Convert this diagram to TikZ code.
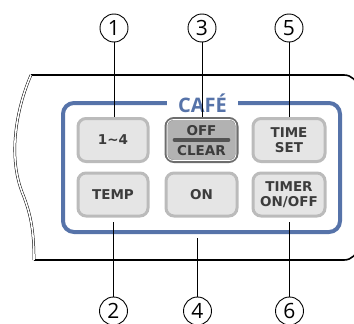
\documentclass[tikz,border=0pt]{standalone}
\usepackage{fontspec}
\setmainfont{Open Sans}
\newfontfamily\btnfont{DejaVu Sans}
\definecolor{cafeblue}{RGB}{86,115,169}
\definecolor{btnfill}{RGB}{229,229,229}
\definecolor{btnedge}{RGB}{187,187,187}
\definecolor{btntext}{RGB}{60,60,60}
\definecolor{offedge}{RGB}{110,110,110}
\definecolor{offfill}{RGB}{178,178,178}
\tikzset{
  btn/.style={draw=btnedge, fill=btnfill, line width=3pt, rounded corners=8pt,
    minimum width=70pt, minimum height=43pt, inner sep=0pt, align=center,
    text=btntext, font=\btnfont\fontsize{13.5}{15}\selectfont\bfseries},
  callout/.style={draw, circle, line width=0.9pt, minimum size=28pt, inner sep=0pt,
    font=\fontsize{21}{21}\selectfont},
  leader/.style={line width=0.9pt},
  panel/.style={line width=1.6pt, rounded corners=14pt},
  breakline/.style={line width=0.5pt, double=white, double distance=1.6pt},
  btnlabel/.style={text=btntext, font=\btnfont\fontsize{13.5}{15}\selectfont\bfseries, inner sep=0pt}
}
\begin{document}
\begin{tikzpicture}[x=1pt,y=-1pt]
\useasboundingbox (0,0) rectangle (354,324);
% panel outline
\draw[panel] (31,75) -- (358,75) -- (358,260) -- (34,260);
\draw[breakline] (31,75) .. controls (20,100) and (6,150) .. (22,192) .. controls (30,212) and (34,228) .. (34,260);
% blue frame
\draw[cafeblue, line width=4pt, rounded corners=11pt] (63,103) rectangle (340,232);
\node[fill=white, text=cafeblue, font=\fontsize{20}{20}\selectfont\bfseries, minimum width=71pt, inner sep=1pt] (cafe) at (202.5,103.5) {CAFÉ};
% buttons
\node[btn] (b1) at (113,140) {1\raisebox{0.1ex}{\textasciitilde}4};
\node[btn, draw=offedge, fill=offfill, minimum width=71pt] (b3) at (201.5,140) {};
\draw[white, line width=0.8pt, rounded corners=6pt] ([shift={(2.6,-2.6)}]b3.south west) rectangle ([shift={(-2.6,2.6)}]b3.north east);
\draw[offedge!75!black, line width=3.6pt, line cap=round] ([xshift=10pt]b3.west) -- ([xshift=-10pt]b3.east);
\node[btnlabel] (off) at (201.5,130.5) {OFF};
\node[btnlabel] (clear) at (201.5,151) {CLEAR};
\node[btn, minimum width=72pt] (b5) at (289,140) {TIME\\SET};
\node[btn] (b2) at (113,194.5) {TEMP};
\node[btn, minimum width=71pt] (b4) at (201.5,194.5) {ON};
\node[btn, minimum width=72pt] (b6) at (289,194.5) {TIMER\\ON/OFF};
% callouts
\node[callout] (c1) at (114,28) {1};
\node[callout] (c3) at (202,28) {3};
\node[callout] (c5) at (289,28) {5};
\node[callout] (c2) at (113.5,311) {2};
\node[callout] (c4) at (197.5,311) {4};
\node[callout] (c6) at (289.5,311) {6};
\coordinate (p4) at (197,238);
\draw[leader] (c1.south) -- (c1.south |- b1.north);
\draw[leader] (c3.south) -- (c3.south |- b3.north);
\draw[leader] (c5.south) -- (c5.south |- b5.north);
\draw[leader] (c2.north) -- ([yshift=-4pt]c2.north |- b2.south);
\draw[leader] (c4.north) -- (c4.north |- p4);
\draw[leader] (c6.north) -- ([yshift=-4pt]c6.north |- b6.south);
\end{tikzpicture}
\end{document}
